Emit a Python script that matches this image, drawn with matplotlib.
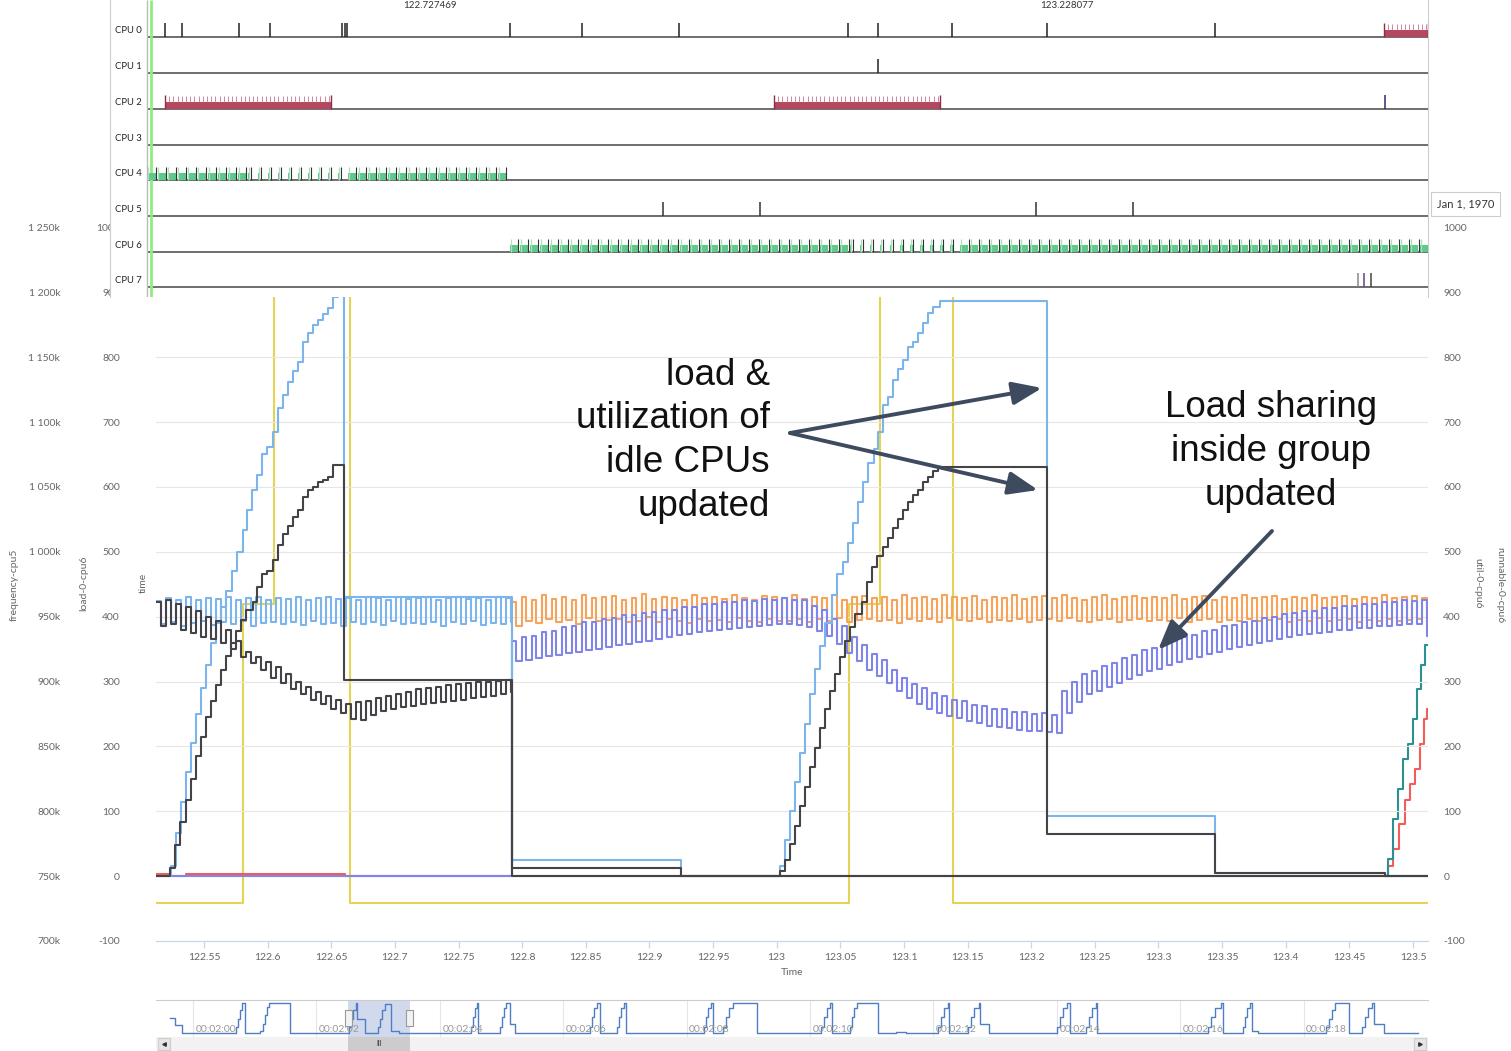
import numpy as np
import matplotlib
matplotlib.use("Agg")
import matplotlib.pyplot as plt
from matplotlib.patches import Rectangle, FancyArrowPatch
from matplotlib.transforms import blended_transform_factory

plt.rcParams['font.family'] = ['Lato', 'DejaVu Sans']
plt.rcParams['axes.unicode_minus'] = False

# ------------------------------------------------------------------ data
view_start, view_end = 122.5123, 123.5118
tick_period = 0.00786

# frequency-cpu5 (kHz-ish units as in the chart)
freq_t = [122.5123, 122.5807, 122.6050, 122.6647, 123.0568, 123.0812, 123.1386, 123.5118]
freq_v = [729600, 960000, 1400000, 729600, 960000, 1400000, 729600, 729600]

# utilisation of the busy task group (light blue staircase)
util_pts = [(122.5123, 0), (122.5241, 15), (122.5280, 66), (122.5319, 115), (122.5359, 160),
            (122.5398, 205), (122.5437, 250), (122.5477, 290), (122.5516, 325), (122.5555, 360),
            (122.5595, 390), (122.5634, 415), (122.5673, 439), (122.5720, 470), (122.5760, 500),
            (122.5807, 534), (122.5838, 565), (122.5877, 596), (122.5917, 619), (122.5956, 650),
            (122.5995, 661), (122.6042, 684), (122.6082, 722), (122.6121, 741), (122.6160, 761),
            (122.6200, 778), (122.6239, 793), (122.6278, 824), (122.6317, 838), (122.6357, 850),
            (122.6396, 858), (122.6435, 867), (122.6475, 876), (122.6514, 892), (122.6553, 930),
            (122.6577, 990), (122.6600, 430), (122.7920, 25), (122.9248, 0),
            (123.0026, 15), (123.0066, 55), (123.0105, 100), (123.0144, 145), (123.0184, 190),
            (123.0223, 235), (123.0262, 280), (123.0302, 320), (123.0341, 355), (123.0380, 390),
            (123.0435, 434), (123.0475, 465), (123.0521, 485), (123.0561, 514), (123.0600, 545),
            (123.0639, 576), (123.0679, 607), (123.0718, 637), (123.0765, 659), (123.0797, 684),
            (123.0836, 727), (123.0875, 739), (123.0915, 765), (123.0954, 781), (123.0993, 796),
            (123.1032, 815), (123.1072, 824), (123.1111, 838), (123.1150, 853), (123.1190, 868),
            (123.1229, 878), (123.1284, 887), (123.2125, 92), (123.3444, 5), (123.4780, 0),
            (123.5118, 0)]

# load of the busy task group (dark staircase)
load_pts = [(122.5123, 0), (122.5233, 12), (122.5272, 48), (122.5312, 83), (122.5359, 117),
            (122.5398, 150), (122.5437, 185), (122.5477, 215), (122.5516, 245), (122.5555, 270),
            (122.5595, 295), (122.5634, 318), (122.5673, 340), (122.5712, 360), (122.5752, 378),
            (122.5791, 395), (122.5830, 410), (122.5885, 422), (122.5917, 445), (122.5956, 465),
            (122.5995, 470), (122.6042, 487), (122.6082, 511), (122.6121, 527), (122.6160, 539),
            (122.6200, 553), (122.6239, 565), (122.6278, 585), (122.6317, 596), (122.6357, 600),
            (122.6396, 607), (122.6435, 611), (122.6475, 616), (122.6514, 634), (122.6600, 303),
            (122.7920, 13), (122.9248, 0),
            (123.0026, 8), (123.0066, 25), (123.0105, 50), (123.0144, 78), (123.0184, 108),
            (123.0223, 138), (123.0262, 168), (123.0302, 198), (123.0341, 228), (123.0380, 258),
            (123.0420, 285), (123.0459, 312), (123.0498, 338), (123.0537, 362), (123.0577, 384),
            (123.0616, 404), (123.0671, 423), (123.0710, 453), (123.0750, 476), (123.0789, 493),
            (123.0836, 508), (123.0875, 522), (123.0915, 537), (123.0954, 550), (123.0993, 565),
            (123.1032, 576), (123.1072, 588), (123.1111, 596), (123.1150, 608), (123.1190, 616),
            (123.1229, 624), (123.1268, 630), (123.2125, 65), (123.3444, 5), (123.4780, 0),
            (123.5118, 0)]

# per-tick signals while the task runs on CPU4 (tick high / tick low)
cpu4_start, cpu4_end = 122.5123, 122.7920
util_cpu4_hi = [424, 428, 426, 430, 425, 429, 427, 431, 426, 428, 430, 425, 429, 427, 431, 426, 428, 430,
                427, 429, 425, 431, 428, 426, 430, 427, 429, 431, 426, 428, 430, 427, 429, 426, 430, 428]
util_cpu4_lo = [388, 392, 386, 390, 394, 387, 391, 389, 393, 386, 390, 392, 388, 391, 387, 393, 389, 390,
                386, 392, 388, 391, 387, 393, 389, 390, 388, 392, 386, 391, 389, 393, 387, 390, 388, 391]
load_cpu4_hi = [422, 425, 420, 415, 408, 400, 393, 380, 362, 345, 338, 330, 322, 312, 300, 292, 284, 277,
                272, 266, 268, 270, 274, 278, 281, 284, 288, 290, 292, 294, 296, 297, 299, 300, 301, 302]
load_cpu4_lo = [385, 388, 380, 375, 368, 365, 360, 350, 338, 328, 318, 305, 297, 288, 280, 272, 265, 258,
                252, 242, 240, 248, 254, 258, 260, 263, 265, 267, 268, 270, 272, 274, 276, 278, 280, 284]

# per-tick signals while the task runs on CPU6
cpu6_start = 122.7920
util_cpu6_hi = [422, 430, 426, 433, 427, 431, 425, 434, 428, 430,
                432, 426, 429, 435, 427, 431, 428, 425, 433, 428,
                431, 427, 434, 429, 426, 432, 430, 428, 433, 427,
                431, 429, 434, 426, 430, 432, 428, 431, 425, 433,
                429, 431, 427, 434, 430, 428, 432, 426, 431, 429,
                433, 427, 430, 432, 428, 434, 429, 426, 431, 433,
                427, 430, 432, 428, 431, 429, 434, 427, 430, 432,
                426, 431, 429, 433, 428, 430, 432, 427, 431, 429,
                434, 428, 430, 432, 427, 431, 429, 433, 428, 430,
                432, 429]
util_cpu6_lo = [386, 394, 390, 397, 392, 395, 389, 398, 393, 395,
                396, 391, 394, 399, 392, 396, 393, 390, 397, 393,
                395, 392, 398, 394, 391, 396, 394, 393, 397, 392,
                396, 394, 398, 391, 395, 396, 393, 395, 390, 397,
                394, 396, 392, 398, 395, 393, 396, 391, 395, 394,
                397, 392, 395, 396, 393, 398, 394, 391, 395, 397,
                392, 395, 396, 393, 395, 394, 398, 392, 395, 396,
                391, 395, 394, 397, 393, 395, 396, 392, 395, 394,
                398, 393, 395, 396, 392, 395, 394, 397, 393, 395,
                396, 394]
load_cpu6_hi = [362, 368, 370, 376, 378, 384, 386, 391, 392, 397,
                398, 402, 402, 406, 407, 411, 411, 415, 415, 419,
                419, 422, 422, 425, 424, 427, 426, 428, 425, 425,
                417, 411, 397, 385, 369, 357, 343, 333, 317, 306,
                296, 290, 282, 278, 272, 270, 264, 262, 257, 257,
                253, 253, 250, 251, 248, 285, 299, 312, 316, 324,
                329, 337, 341, 349, 351, 358, 362, 369, 372, 378,
                380, 386, 387, 392, 393, 398, 399, 404, 405, 409,
                409, 413, 413, 417, 416, 420, 419, 423, 422, 425,
                424, 425]
load_cpu6_lo = [331, 333, 336, 339, 341, 344, 346, 348, 350, 353,
                356, 358, 361, 363, 366, 368, 371, 373, 376, 378,
                380, 381, 383, 384, 386, 387, 388, 388, 387, 384,
                378, 370, 358, 344, 332, 318, 308, 298, 286, 274,
                266, 258, 252, 247, 243, 239, 236, 232, 230, 228,
                226, 224, 223, 222, 221, 252, 268, 280, 285, 291,
                298, 304, 310, 316, 320, 325, 330, 334, 338, 342,
                346, 350, 353, 356, 359, 362, 365, 368, 371, 373,
                375, 377, 379, 380, 382, 383, 385, 386, 387, 388,
                388, 370]

runnable_red_pts = [(122.5123, 4), (122.5233, 0), (122.5359, 4), (122.6608, 0), (123.4804, 15),
                    (123.4843, 42), (123.4890, 80), (123.4937, 118), (123.4977, 142), (123.5016, 165),
                    (123.5055, 203), (123.5087, 242), (123.5110, 257)]
runnable_teal_pts = [(123.4780, 0), (123.4804, 26), (123.4843, 88), (123.4882, 134), (123.4922, 180),
                     (123.4961, 203), (123.5000, 242), (123.5032, 288), (123.5063, 326), (123.5095, 357)]

# tick values / labels
x_ticks = [122.55, 122.6, 122.65, 122.7, 122.75, 122.8, 122.85, 122.9, 122.95, 123.0,
           123.05, 123.1, 123.15, 123.2, 123.25, 123.3, 123.35, 123.4, 123.45, 123.5]
load_ticks = [-100, 0, 100, 200, 300, 400, 500, 600, 700, 800, 900, 1000]
freq_ticks = [700000, 750000, 800000, 850000, 900000, 950000, 1000000, 1050000,
              1100000, 1150000, 1200000, 1250000]

# scheduler lanes
cpu_names = ['CPU 0', 'CPU 1', 'CPU 2', 'CPU 3', 'CPU 4', 'CPU 5', 'CPU 6', 'CPU 7']
cpu0_events = [122.5194, 122.5327, 122.5775, 122.6019, 122.6585, 122.6608, 122.6624, 122.7905,
               122.8471, 122.9233, 123.0561, 123.0797, 123.1378, 123.2124, 123.3444]
cpu0_blocks = [(123.4772, 123.5118)]
cpu1_events = [123.0797]
cpu2_blocks = [(122.5194, 122.6498), (122.9979, 123.1284)]
cpu2_events = [123.4780]
cpu5_events = [122.9107, 122.9869, 123.2038, 123.2800]
cpu7_events = [123.4568, 123.4615, 123.4670]
cpu4_run_start = 122.5060
cpu4_fill = [1] * 10 + [0.3] * 10 + [1] * 16
cpu6_run_start = 122.7905
cpu6_fill = [1] * 34 + [0.3] * 11 + [1] * 47
cursor_times = [122.727469, 123.228077]

# navigator overview series
nav_pts = [(119.627, 460), (119.708, 260), (119.822, 20),
           (120.697, 200), (120.729, 450), (120.762, 700), (120.794, 900), (120.843, 20),
           (121.086, 70), (121.135, 300), (121.167, 550), (121.199, 780), (121.232, 900), (121.572, 20),
           (122.528, 200), (122.560, 450), (122.593, 700), (122.642, 900), (122.658, 430),
           (122.788, 25), (122.917, 20),
           (122.998, 200), (123.031, 450), (123.063, 700), (123.112, 890), (123.209, 92), (123.339, 20),
           (124.506, 200), (124.538, 500), (124.570, 750), (124.603, 900), (124.619, 20),
           (124.976, 200), (125.008, 500), (125.040, 750), (125.073, 900), (125.138, 300), (125.219, 20),
           (126.434, 200), (126.467, 500), (126.499, 750), (126.548, 900), (126.596, 20),
           (126.872, 200), (126.904, 500), (126.937, 750), (126.985, 900), (127.018, 20),
           (128.282, 200), (128.314, 500), (128.347, 750), (128.395, 900), (128.428, 20),
           (128.590, 200), (128.639, 500), (128.687, 750), (128.752, 900), (129.141, 20),
           (130.178, 200), (130.227, 500), (130.276, 750), (130.324, 900), (130.357, 20),
           (130.648, 200), (130.680, 500), (130.713, 750), (130.762, 900), (131.102, 20),
           (131.394, 50), (131.556, 20),
           (132.075, 200), (132.123, 500), (132.172, 750), (132.237, 900), (132.253, 20),
           (132.561, 200), (132.609, 500), (132.658, 750), (132.739, 900), (132.755, 300), (132.901, 20),
           (134.003, 200), (134.052, 500), (134.100, 750), (134.165, 900), (134.214, 20),
           (134.473, 200), (134.522, 500), (134.571, 750), (134.635, 900), (134.652, 20),
           (136.451, 200), (136.499, 500), (136.564, 750), (136.661, 900), (136.694, 20),
           (137.018, 200), (137.050, 500), (137.083, 750), (137.131, 900), (137.164, 70), (137.261, 20),
           (138.363, 200), (138.412, 450), (138.460, 700), (138.509, 900), (138.736, 20),
           (138.947, 200), (138.995, 500), (139.044, 750), (139.109, 900), (139.141, 300), (139.303, 20),
           (139.854, 20)]
nav_range = (119.400, 140.016)
nav_label_t = [120, 122, 124, 126, 128, 130, 132, 134, 136, 138]
nav_labels = ['00:02:00', '00:02:02', '00:02:04', '00:02:06', '00:02:08',
              '00:02:10', '00:02:12', '00:02:14', '00:02:16', '00:02:18']

# ------------------------------------------------------------------ layout helpers
W, H = 1511, 1051
fig = plt.figure(figsize=(W / 100, H / 100), dpi=100)
fig.patch.set_facecolor('white')


def box(x0, y0, x1, y1):
    return [x0 / W, 1 - y1 / H, (x1 - x0) / W, (y1 - y0) / H]


def fx(x):
    return x / W


def fy(y):
    return 1 - y / H


def pulse_steps(t0, hi, lo, duty=0.45):
    ts, vs = [], []
    for i, (h, l) in enumerate(zip(hi, lo)):
        a = t0 + i * tick_period
        ts += [a, a + duty * tick_period]
        vs += [h, l]
    return ts, vs


C_BLUE, C_BLACK, C_ORANGE = '#7cb5ec', '#434348', '#f7a35c'
C_PURPLE, C_YELLOW, C_TEAL, C_RED = '#8085e9', '#e4d354', '#2b908f', '#f45b5b'
LBL = '#666666'
LW = 1.5

# ------------------------------------------------------------------ main chart
ax = fig.add_axes(box(156, 195, 1428, 941))
ax_f = ax.twinx()
ax_r = ax.twinx()
ax_f.set_zorder(1)
ax_r.set_zorder(1.5)
ax.set_zorder(2)
ax.patch.set_visible(False)

ax.set_xlim(view_start, view_end)
ax.set_ylim(-100, 1050)
ax_r.set_ylim(-100, 1050)
ax_f.set_ylim(700000, 1275000)

# frequency
ax_f.step(freq_t, freq_v, where='post', color=C_YELLOW, lw=LW)

# per-tick signals
t, v = pulse_steps(cpu6_start, util_cpu6_hi, util_cpu6_lo)
t.append(view_end); v.append(v[-1])
ax.step(t, v, where='post', color=C_ORANGE, lw=LW, zorder=3)

t, v = pulse_steps(cpu6_start, load_cpu6_hi, load_cpu6_lo)
t = [view_start] + t + [view_end]
v = [0] + v + [v[-1]]
ax.step(t, v, where='post', color=C_PURPLE, lw=LW, zorder=4)

t, v = pulse_steps(cpu4_start, util_cpu4_hi, util_cpu4_lo)
t.append(cpu4_end); v.append(25)
ax.step(t, v, where='post', color=C_BLUE, lw=LW, zorder=5)

t, v = pulse_steps(cpu4_start, load_cpu4_hi, load_cpu4_lo)
t += [cpu4_end, view_end]; v += [0, 0]
ax.step(t, v, where='post', color=C_BLACK, lw=LW, zorder=6)

t, v = zip(*util_pts)
ax.step(t, v, where='post', color=C_BLUE, lw=LW, zorder=5)
t, v = zip(*load_pts)
ax.step(t, v, where='post', color=C_BLACK, lw=LW, zorder=6)

t, v = zip(*runnable_red_pts)
ax_r.step(list(t) + [view_end], list(v) + [v[-1]], where='post', color=C_RED, lw=LW)
t, v = zip(*runnable_teal_pts)
ax_r.step(list(t) + [view_end], list(v) + [v[-1]], where='post', color=C_TEAL, lw=LW)

# axes styling
for a in (ax, ax_f, ax_r):
    for s in a.spines.values():
        s.set_visible(False)
ax.spines['bottom'].set_visible(True)
ax.spines['bottom'].set_color('#ccd6eb')
ax.spines['bottom'].set_linewidth(0.9)

ax.set_yticks(load_ticks)
ax.set_yticklabels([str(v) for v in load_ticks])
ax.grid(axis='y', color='#e6e6e6', lw=0.8)
ax.tick_params(axis='y', length=0, pad=26, labelsize=7.5, labelcolor=LBL, right=False)

ax_r.set_yticks(load_ticks)
ax_r.set_yticklabels([str(v) for v in load_ticks])
ax_r.tick_params(axis='y', length=0, pad=11, labelsize=7.5, labelcolor=LBL)


def kfmt(v):
    k = int(round(v / 1000))
    if k >= 1000:
        return f"{k // 1000} {k % 1000:03d}k"
    return f"{k}k"


ax_f.yaxis.tick_left()
ax_f.set_yticks(freq_ticks)
ax_f.set_yticklabels([kfmt(v) for v in freq_ticks])
ax_f.tick_params(axis='y', length=0, pad=69, labelsize=7.5, labelcolor=LBL)

ax.set_xticks(x_ticks)
ax.set_xticklabels([f"{v:.2f}".rstrip('0').rstrip('.') for v in x_ticks])
ax.tick_params(axis='x', length=5, width=0.9, color='#ccd6eb', pad=4, labelsize=7.5, labelcolor=LBL)
ax.set_xlabel('Time', fontsize=7.5, color=LBL, labelpad=4)

# axis titles
fig.text(fx(14), fy(585), 'frequency-cpu5', rotation=90, ha='center', va='center', fontsize=7.5, color=LBL)
fig.text(fx(84), fy(583), 'load-0-cpu6', rotation=90, ha='center', va='center', fontsize=7.5, color=LBL)
fig.text(fx(143), fy(583), 'time', rotation=90, ha='center', va='center', fontsize=7.5, color=LBL)
fig.text(fx(1478), fy(583), 'util-0-cpu6', rotation=270, ha='center', va='center', fontsize=7.5, color=LBL)
fig.text(fx(1500), fy(585), 'runnable-0-cpu6', rotation=270, ha='center', va='center', fontsize=7.5, color=LBL)

# ------------------------------------------------------------------ scheduler lanes
lax = fig.add_axes(box(110, 0, 1428, 297))
lax.set_zorder(10)
lax.set_facecolor('white')
lax.set_xlim(view_start - 46 / 1272.6, view_end)
lax.set_ylim(297, 0)
lax.set_xticks([])
lax.set_yticks([])
for s in lax.spines.values():
    s.set_visible(False)
lax.spines['left'].set_visible(True)
lax.spines['left'].set_color('#cccccc')
lax.spines['right'].set_visible(True)
lax.spines['right'].set_color('#cccccc')

lane_base = [37, 73, 109, 145, 180, 216, 252, 287]
ltrans = blended_transform_factory(lax.transAxes, lax.transData)
lane_x0 = view_start - 8 / 1272.6
for name, base in zip(cpu_names, lane_base):
    lax.hlines(base, lane_x0, view_end, color='#555555', lw=1.2, zorder=2)
    lax.text(5 / 1318, base - 2, name, transform=ltrans, fontsize=6.8, color='#222222',
             ha='left', va='bottom')

# left markers of the lane area
lax.vlines(view_start - 9 / 1272.6, 0, 297, color='#bbbbbb', lw=1.0, zorder=3)
lax.vlines(view_start - 5 / 1272.6, 0, 297, color='#90ed7d', lw=2.0, zorder=3)


def ticks(events, base, color='#222222'):
    lax.vlines(events, base - 14, base, color=color, lw=1.1, zorder=4)


def blocks(spans, base):
    for a, b in spans:
        lax.add_patch(Rectangle((a, base - 7), b - a, 7, facecolor='#b5475f', edgecolor='none', zorder=3))
        lax.vlines(np.arange(a, b, 0.0033), base - 13, base - 7, color='#c77489', lw=0.6, zorder=3)
        lax.vlines([a, b], base - 14, base, color='#8a3048', lw=1.0, zorder=4)


def run_pattern(t0, fills, base):
    for i, f in enumerate(fills):
        p = t0 + i * tick_period
        w = 0.78 * tick_period * f
        lax.add_patch(Rectangle((p, base - 7.5), w, 7.5, facecolor='#5ec98a', edgecolor='none', zorder=3))
        lax.vlines(p + 0.05 * tick_period, base - 13, base, color='#a8e2bb', lw=0.9, zorder=3)
        lax.vlines(p + w + 0.06 * tick_period, base - 13, base, color='#333333', lw=0.8, zorder=4)


ticks(cpu0_events, lane_base[0])
blocks(cpu0_blocks, lane_base[0])
ticks(cpu1_events, lane_base[1])
blocks(cpu2_blocks, lane_base[2])
ticks(cpu2_events, lane_base[2], color='#2b2f6b')
run_pattern(cpu4_run_start, cpu4_fill, lane_base[4])
ticks(cpu5_events, lane_base[5], color='#333333')
run_pattern(cpu6_run_start, cpu6_fill, lane_base[6])
lax.vlines(cpu7_events, lane_base[7] - 14, lane_base[7], color=['#888888', '#6a3d8a', '#444444'],
           lw=1.1, zorder=4)

for tc in cursor_times:
    lax.text(tc, 6, f"{tc:.6f}", ha='center', va='center', fontsize=7, color='#333333')

fig.text(fx(1437), fy(204), 'Jan 1, 1970', ha='left', va='center', fontsize=8, color='#333333',
         bbox=dict(boxstyle='square,pad=0.55', fc='white', ec='#cccccc', lw=0.8))

# ------------------------------------------------------------------ navigator
nav = fig.add_axes(box(156, 1000, 1428, 1037))
nav.set_xlim(*nav_range)
nav.set_ylim(-100, 1000)
nav.set_xticks([])
nav.set_yticks([])
for s in nav.spines.values():
    s.set_visible(False)
nav.spines['top'].set_visible(True)
nav.spines['top'].set_color('#cccccc')
nav.vlines(nav_label_t, -100, 1000, color='#e6e6e6', lw=0.8, zorder=1)
t, v = zip(*nav_pts)
nav.step(t, v, where='post', color='#4f7fc2', lw=1.0, zorder=3)
nav.axvspan(view_start, view_end, color=(102 / 255, 133 / 255, 194 / 255, 0.3), lw=0, zorder=2)
ntrans = blended_transform_factory(nav.transData, nav.transAxes)
for tl, lab in zip(nav_label_t, nav_labels):
    nav.text(tl + 0.04, 0.2, lab, transform=ntrans, fontsize=7.5, color='#999999', ha='left', va='center',
             zorder=4)
hw = 7 / 61.7
for hx in (view_start, view_end):
    nav.add_patch(Rectangle((hx - hw / 2, 0.3), hw, 0.42, transform=ntrans, facecolor='#f2f2f2',
                            edgecolor='#999999', lw=0.8, zorder=5))

# scrollbar
sb = fig.add_axes(box(156, 1037, 1428, 1051))
sb.set_xlim(*nav_range)
sb.set_ylim(0, 1)
sb.set_xticks([])
sb.set_yticks([])
sb.set_facecolor('#f2f2f2')
for s in sb.spines.values():
    s.set_visible(False)
sb.add_patch(Rectangle((view_start, 0), view_end - view_start, 1, facecolor='#cccccc', edgecolor='none'))
sb.text((view_start + view_end) / 2, 0.5, 'III', ha='center', va='center', fontsize=5, color='#333333')
bw = 12 / 61.7
for bx, mk in ((nav_range[0] + 2 / 61.7, '<'), (nav_range[1] - bw - 2 / 61.7, '>')):
    sb.add_patch(Rectangle((bx, 0.05), bw, 0.9, facecolor='#e6e6e6', edgecolor='#cccccc', lw=0.8))
    sb.plot([bx + bw / 2], [0.5], marker=mk, ms=2.5, color='#333333')

# ------------------------------------------------------------------ annotations
ann_font = dict(family=['Liberation Sans', 'DejaVu Sans'], fontsize=26.5, color='#111111')
for txt, yb in zip(['load &', 'utilization of', 'idle CPUs', 'updated'], [385, 428.5, 472, 515.5]):
    fig.text(fx(770), fy(yb), txt, ha='right', va='baseline', zorder=20, **ann_font)
for txt, yb in zip(['Load sharing', 'inside group', 'updated'], [417, 461, 505]):
    fig.text(fx(1271), fy(yb), txt, ha='center', va='baseline', zorder=20, **ann_font)

arrow_color = '#3e4a5d'
for (x0, y0), (x1, y1) in [((790, 433), (1042, 388)), ((790, 433), (1038, 490)), ((1272, 531), (1158, 650))]:
    fig.add_artist(FancyArrowPatch((fx(x0), fy(y0)), (fx(x1), fy(y1)), transform=fig.transFigure,
                                   arrowstyle='-|>,head_length=0.9,head_width=0.35', mutation_scale=20,
                                   lw=2.8, color=arrow_color, shrinkA=0, shrinkB=0, zorder=20))

fig.savefig('out.png', dpi=100)
